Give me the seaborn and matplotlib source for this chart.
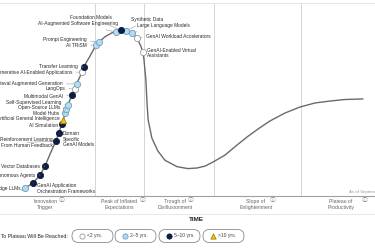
import matplotlib
matplotlib.use("Agg")
import matplotlib.pyplot as plt
import seaborn as sns
import pandas as pd
from matplotlib.patches import FancyBboxPatch

# ---------------- data ----------------
# hype-cycle curve (time %, expectations %)
curve_time = [5.9, 6.7, 8.8, 10.7, 12.0, 13.3, 14.9, 16.5, 18.1, 19.2, 20.5, 21.9, 22.3, 24.0,
              25.6, 26.4, 28.0, 29.9, 30.9, 32.3, 33.6, 35.2, 36.5, 37.6, 38.1, 38.4, 38.9,
              39.2, 39.5, 40.5, 42.1, 44.0, 47.2, 50.1, 52.5, 54.7, 56.8, 60.0, 63.2, 65.9,
              68.8, 72.0, 76.0, 80.0, 84.0, 88.0, 92.0, 96.8]
curve_expect = [3.1, 4.1, 6.7, 10.9, 15.5, 21.5, 28.5, 37.3, 47.2, 52.3, 58.5, 64.2, 66.8, 72.5,
                78.2, 79.8, 82.5, 84.6, 85.0, 85.8, 85.5, 84.5, 81.9, 77.5, 74.6, 70.5, 60.1,
                48.2, 39.5, 30.0, 23.3, 18.5, 15.2, 14.2, 14.5, 15.5, 17.6, 21.2, 26.4, 30.6,
                34.7, 38.9, 43.0, 46.1, 48.2, 49.2, 50.0, 50.3]

tech_names = ["Edge LLMs", "GenAI Application\nOrchestration Frameworks", "Autonomous Agents",
              "Vector Databases", "Reinforcement Learning\nFrom Human Feedback",
              "Domain\nSpecific\nGenAI Models", "AI Simulation", "Artificial General Intelligence",
              "Model Hubs", "Open-Source LLMs", "Self-Supervised Learning", "Multimodal GenAI",
              "LangOps", "Retrieval Augmented Generation", "Generative AI-Enabled Applications",
              "Transfer Learning", "AI TRiSM", "Prompt Engineering",
              "AI-Augmented Software Engineering", "Foundation Models", "Synthetic Data",
              "Large Language Models", "GenAI Workload Accelerators",
              "GenAI-Enabled Virtual\nAssistants"]
tech_time = [6.7, 8.8, 10.7, 12.0, 14.9, 15.7, 16.5, 16.9, 17.3, 17.7, 18.1, 19.2, 20.0, 20.5,
             21.9, 22.3, 25.6, 26.4, 30.9, 32.3, 33.6, 35.2, 36.5, 38.1]
tech_expect = [4.1, 6.7, 10.9, 15.5, 28.5, 32.6, 37.3, 39.4, 43.0, 45.1, 47.2, 52.3, 55.4, 58.0,
               64.2, 66.8, 78.2, 79.8, 85.0, 85.8, 85.5, 84.5, 81.9, 74.6]
tech_years = ["2-5", "5-10", "5-10", "5-10", "5-10", "5-10", "5-10", ">10", "2-5", "2-5", "2-5",
              "5-10", "<2", "2-5", "<2", "5-10", "2-5", "2-5", "2-5", "5-10", "2-5", "2-5",
              "<2", "<2"]

phase_bounds = [25.3, 38.4, 57.1, 80.3]
phase_line1 = ["Innovation", "Peak of Inflated", "Trough of", "Slope of", "Plateau of"]
phase_line2 = ["Trigger", "Expectations", "Disillusionment", "Enlightenment", "Productivity"]
year_cats = ["<2", "2-5", "5-10", ">10"]
year_labels = ["<2 yrs.", "2\u20135 yrs.", "5\u201310 yrs.", ">10 yrs."]

# ---------------- layout / style ----------------
# label offsets in pixels (dx, dy) and alignment for each technology
label_layout = [(-4, 0, "right"), (4, -5.5, "left"), (-5, -1, "right"), (-5, 0, "right"),
                (-3, -1.5, "right"), (4, -6, "left"), (-4, -1, "right"), (-4, 1, "right"),
                (-6, 0, "right"), (-6.5, 1, "right"), (-7, 2, "right"), (-9, -1, "right"),
                (-10, 1, "right"), (-14, 1, "right"), (-10, 0, "right"), (-6, 1, "right"),
                (-9, 0, "right"), (-12, 2, "right"), (2, 8, "right"), (-9, 13, "right"),
                (5, 11, "left"), (5, 7, "left"), (9, 1, "left"), (4, -1, "left")]
styles = {
    "<2": dict(fc="#ffffff", ec="#9a9a9a", marker="o"),
    "2-5": dict(fc="#b4dcef", ec="#6d9fbf", marker="o"),
    "5-10": dict(fc="#0e1c40", ec="#0e1c40", marker="o"),
    ">10": dict(fc="#f4c20d", ec="#a98600", marker="^"),
}

sns.set_theme(style="white")
plt.rcParams["font.family"] = ["Liberation Sans", "DejaVu Sans"]
icon_family = ["Noto Sans CJK JP", "DejaVu Sans"]

W, H = 375, 250
fig = plt.figure(figsize=(W / 100, H / 100), dpi=100)
fig.patch.set_facecolor("white")

top_px, bot_px = 3, 196
ax = fig.add_axes([0, (H - bot_px) / H, 1, (bot_px - top_px) / H])
ax.set_xlim(0, 100)
ax.set_ylim(0, 100)
ax.set_xticks([])
ax.set_yticks([])
for side in ["left", "right"]:
    ax.spines[side].set_visible(False)
ax.spines["top"].set_color("#e2e2e2")
ax.spines["top"].set_linewidth(0.6)
ax.spines["bottom"].set_color("#a0a0a0")
ax.spines["bottom"].set_linewidth(0.8)

for b in phase_bounds:
    ax.axvline(b, color="#cfcfcf", lw=0.6, zorder=0)

curve_df = pd.DataFrame({"t": curve_time, "e": curve_expect})
sns.lineplot(data=curve_df, x="t", y="e", sort=False, color="#6a6a6a", lw=1.0,
             ax=ax, zorder=1, estimator=None)
ax.set_xlabel("")
ax.set_ylabel("")

tech_df = pd.DataFrame({"t": tech_time, "e": tech_expect, "years": tech_years})
for cat in year_cats:
    sub = tech_df[tech_df["years"] == cat]
    st = styles[cat]
    sns.scatterplot(data=sub, x="t", y="e", ax=ax, color=st["fc"], edgecolor=st["ec"],
                    marker=st["marker"], s=20, linewidth=0.6, zorder=3, legend=False)
ax.set_xlabel("")
ax.set_ylabel("")

for name, t, e, (dx, dy, ha) in zip(tech_names, tech_time, tech_expect, label_layout):
    ax.annotate(name, xy=(t, e), xytext=(dx, dy), textcoords="offset pixels",
                ha=ha, va="center", fontsize=3.5, color="#2b2b2b", linespacing=1.15,
                arrowprops=dict(arrowstyle="-", color="#9a9a9a", lw=0.4,
                                shrinkA=0.3, shrinkB=2.2), zorder=4)

# overlay in pixel coordinates for the text below the chart
ov = fig.add_axes([0, 0, 1, 1], facecolor="none")
ov.set_xlim(0, W)
ov.set_ylim(H, 0)
ov.axis("off")

ov.text(349, 191.5, "As of September 2024", fontsize=3.2, color="#9a9a9a", ha="left", va="center")

phase_x = [45, 119, 175, 256, 341]
info_x = [62, 143, 191, 273, 365]
for l1, l2, px, ix in zip(phase_line1, phase_line2, phase_x, info_x):
    ov.text(px, 201.3, l1, ha="center", va="center", fontsize=3.7, color="#666666")
    ov.text(px, 207.6, l2, ha="center", va="center", fontsize=3.7, color="#666666")
    ov.text(ix, 201, "\u24d8", ha="center", va="center", fontsize=4.2, color="#777777",
            family=icon_family)
ov.plot([0, W], [213.5, 213.5], color="#e4e4e4", lw=0.6)

ov.text(196, 219.5, "TIME", ha="center", va="center", fontsize=4.6, fontweight="bold",
        color="#222222")

ov.text(68, 236, "Years To Plateau Will Be Reached:", ha="right", va="center", fontsize=3.8,
        color="#222222")
pill_x0 = [72, 115, 159, 203]
for cat, lab, x0 in zip(year_cats, year_labels, pill_x0):
    box = FancyBboxPatch((x0, 229.5), 41, 13, boxstyle="round,pad=0,rounding_size=6.5",
                         fc="white", ec="#8a8a8a", lw=0.6, mutation_aspect=1)
    ov.add_patch(box)
    st = styles[cat]
    ov.scatter([x0 + 9.5], [236], s=14, c=st["fc"], edgecolors=st["ec"], marker=st["marker"],
               linewidths=0.6, zorder=3)
    ov.text(x0 + 15, 236, lab, ha="left", va="center", fontsize=3.6, color="#444444")

fig.savefig("out.png", dpi=100)
